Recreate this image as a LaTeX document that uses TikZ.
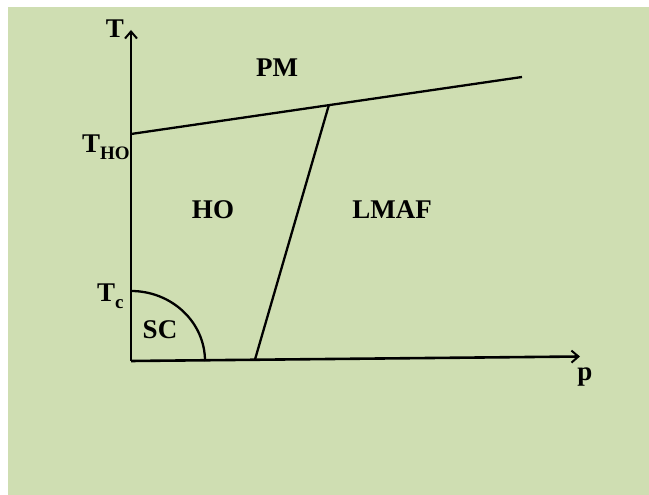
\documentclass[tikz,border=0pt]{standalone}
\usepackage{fontspec}
\setmainfont{Liberation Serif}
\usetikzlibrary{arrows.meta,calc}
\definecolor{bggreen}{RGB}{207,222,178}
\tikzset{
    lbl/.style={inner sep=0pt,anchor=base,font=\fontsize{27}{27}\selectfont\bfseries},
    axis/.style={line width=2.6pt,-{Straight Barb[length=7pt,width=12pt,line width=2pt]}},
    border/.style={line width=2.3pt}
}
\newcommand{\sublbl}[2]{#1\raisebox{-6.5pt}{\fontsize{19}{19}\selectfont #2}}
\begin{document}
\begin{tikzpicture}[x=1pt,y=1pt]
        \useasboundingbox (0,0) rectangle (649,495);
        \fill[white](0,0) rectangle (649,495);
        \fill[bggreen](8,0) rectangle (649,488);
        \coordinate (O) at (131,134);
        \coordinate (Tend) at (131,465);
        \coordinate (pend) at (580,138.5);
        \coordinate (THO) at (131,361);
        \coordinate (PMend) at (522,418);
        \coordinate (Tc) at (131,204);
        \coordinate (triple) at ($(THO)!0.506!(PMend)$);
        \coordinate (foot) at ($(O)!0.276!(pend)$);
        \draw[axis](O)--(Tend);
        \draw[axis](O)--(pend);
        \draw[border](THO)--(PMend);
        \draw[border](triple)--(foot);
        \draw[border](Tc) arc[start angle=90,end angle=0,x radius=74,y radius=70];
        \node[lbl] (Tlbl) at (115,457) {T};
        \node[lbl,anchor=base west] (THOlbl) at (82,342) {\sublbl{T}{HO}};
        \node[lbl,anchor=base west] (Tclbl) at (97,193) {\sublbl{T}{c}};
        \node[lbl] (SClbl) at (160,156) {SC};
        \node[lbl] (HOlbl) at (213,276) {HO};
        \node[lbl] (LMAFlbl) at (392,276) {LMAF};
        \node[lbl] (PMlbl) at (277,418) {PM};
        \node[lbl] (plbl) at (585,114) {p};
    \end{tikzpicture}
\end{document}
